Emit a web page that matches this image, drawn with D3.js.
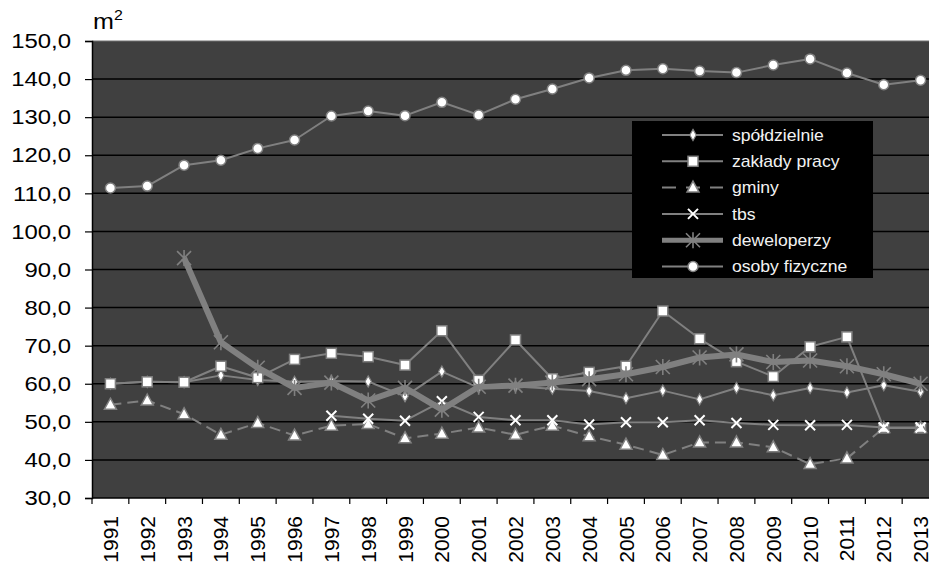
<!DOCTYPE html>
<html>
<head>
<meta charset="utf-8">
<script src="https://cdn.jsdelivr.net/npm/d3@7/dist/d3.min.js"></script>
<style>
  html, body { margin: 0; padding: 0; background: #ffffff; }
  svg { display: block; font-family: "Liberation Sans", Arial, sans-serif; }
</style>
</head>
<body>
<svg id="chart" width="929" height="567"></svg>
<script>
// Average usable floor area of dwellings completed, by investor type (m²)
const years = d3.range(1991, 2014).map(String);

const spoldzielnie = [60.0, 60.5, 60.4, 62.2, 61.0, 60.5, 60.7, 60.6, 56.7, 63.2, 59.0, 59.3, 58.7,
                      58.1, 56.2, 58.2, 55.9, 58.9, 57.0, 58.9, 57.7, 59.6, 57.9];
const zakladyPracy = [60.0, 60.5, 60.4, 64.6, 61.6, 66.4, 68.0, 67.1, 64.9, 73.9, 60.9, 71.5, 61.3,
                      63.0, 64.6, 79.1, 71.8, 65.8, 61.9, 69.7, 72.3, 48.4, 48.4];
const gminy        = [54.5, 55.6, 52.0, 46.6, 49.7, 46.4, 49.0, 49.4, 45.7, 46.9, 48.5, 46.6, 49.0,
                      46.2, 44.0, 41.3, 44.6, 44.6, 43.3, 38.9, 40.4, 48.4, 48.4];
const tbs          = [null, null, null, null, null, null, 51.6, 50.8, 50.3, 55.4, 51.3, 50.4, 50.4,
                      49.3, 49.9, 49.9, 50.4, 49.7, 49.2, 49.1, 49.2, 48.5, 48.5];
const deweloperzy  = [null, null, 93.0, 70.9, 64.2, 58.9, 60.3, 55.6, 58.9, 53.2, 59.2, 59.5, 60.3,
                      61.2, 62.5, 64.4, 66.9, 67.7, 65.7, 66.1, 64.6, 62.5, 60.0];
const osobyFizyczne = [111.4, 111.9, 117.4, 118.7, 121.8, 124.0, 130.3, 131.6, 130.4, 133.9, 130.6, 134.7, 137.4,
                       140.3, 142.3, 142.7, 142.1, 141.7, 143.7, 145.3, 141.6, 138.5, 139.7];

const yTicks = d3.range(30, 151, 10);

const seriesList = [
  { name: "spółdzielnie",    values: spoldzielnie,  marker: "diamond" },
  { name: "zakłady pracy",   values: zakladyPracy,  marker: "square" },
  { name: "gminy",           values: gminy,         marker: "triangle", dash: "11,6" },
  { name: "tbs",             values: tbs,           marker: "cross" },
  { name: "deweloperzy",     values: deweloperzy,   marker: "star", thick: true },
  { name: "osoby fizyczne",  values: osobyFizyczne, marker: "circle" }
];

const LINE = "#808080";
const PLOT_BG = "#404040";
const STRETCH = 1.14;

const svg = d3.select("#chart");
const plot = { left: 92, top: 41, right: 939, bottom: 498 };

const x = d3.scaleBand().domain(years).range([plot.left, plot.right]);
const cx = d => x(d) + x.bandwidth() / 2;
const y = d3.scaleLinear().domain([30, 150]).range([plot.bottom, plot.top]);

const fmt = d3.formatLocale({ decimal: ",", thousands: " ", grouping: [3], currency: ["", " zł"] }).format(".1f");

// plot area
svg.append("rect")
  .attr("x", plot.left).attr("y", plot.top)
  .attr("width", plot.right - plot.left).attr("height", plot.bottom - plot.top)
  .attr("fill", PLOT_BG);

// horizontal gridlines
svg.append("g").selectAll("line")
  .data(yTicks.filter(t => t > 30 && t < 150))
  .join("line")
  .attr("x1", plot.left).attr("x2", plot.right)
  .attr("y1", d => y(d)).attr("y2", d => y(d))
  .attr("stroke", "#000").attr("stroke-width", 1.5);

svg.append("line")
  .attr("x1", plot.left).attr("x2", plot.right)
  .attr("y1", plot.top).attr("y2", plot.top)
  .attr("stroke", "#707070").attr("stroke-width", 1);

// y axis
const yAxis = svg.append("g")
  .attr("transform", `translate(${plot.left},0)`)
  .call(d3.axisLeft(y).tickValues(yTicks).tickFormat(fmt).tickSize(7).tickPadding(0));
yAxis.select(".domain").attr("stroke", "#000").attr("stroke-width", 1.5);
yAxis.selectAll(".tick line").attr("stroke", "#000").attr("stroke-width", 1.2);
yAxis.selectAll(".tick text")
  .attr("x", -21 / STRETCH)
  .attr("transform", `scale(${STRETCH},1)`)
  .attr("font-size", 21)
  .attr("font-family", "Liberation Sans, Arial, sans-serif")
  .attr("fill", "#000");

// x axis: ticks on category boundaries, rotated year labels
const xAxis = svg.append("g");
xAxis.append("line")
  .attr("x1", plot.left).attr("x2", plot.right)
  .attr("y1", plot.bottom).attr("y2", plot.bottom)
  .attr("stroke", "#000").attr("stroke-width", 1.5);
xAxis.selectAll("line.tk")
  .data(years)
  .join("line").attr("class", "tk")
  .attr("x1", d => x(d)).attr("x2", d => x(d))
  .attr("y1", plot.bottom).attr("y2", plot.bottom + 6)
  .attr("stroke", "#000").attr("stroke-width", 1.2);
xAxis.selectAll("text")
  .data(years)
  .join("text")
  .attr("transform", d => `translate(${cx(d)},516) rotate(-90)`)
  .attr("text-anchor", "end")
  .attr("dy", "0.36em")
  .attr("font-size", 21)
  .attr("fill", "#000")
  .text(d => d);

// unit label
const unit = svg.append("text")
  .attr("transform", `translate(93,29) scale(${STRETCH},1)`)
  .attr("font-size", 22)
  .attr("fill", "#000");
unit.append("tspan").text("m");
unit.append("tspan").attr("font-size", 14).attr("dy", -9).text("2");

// marker shapes
function drawMarker(g, type, px, py) {
  switch (type) {
    case "diamond":
      g.append("path")
        .attr("d", d3.symbol(d3.symbolDiamond, 36)())
        .attr("transform", `translate(${px},${py})`)
        .attr("fill", "#fff").attr("stroke", LINE).attr("stroke-width", 1.2);
      break;
    case "square":
      g.append("rect")
        .attr("x", px - 5).attr("y", py - 5).attr("width", 10).attr("height", 10)
        .attr("fill", "#fff").attr("stroke", LINE).attr("stroke-width", 1.5);
      break;
    case "triangle":
      g.append("path")
        .attr("d", `M${px},${py - 6.5}L${px + 6},${py + 4.5}L${px - 6},${py + 4.5}Z`)
        .attr("fill", "#fff").attr("stroke", LINE).attr("stroke-width", 1.5);
      break;
    case "cross":
      g.append("path")
        .attr("d", `M${px - 5},${py - 5}L${px + 5},${py + 5}M${px - 5},${py + 5}L${px + 5},${py - 5}`)
        .attr("stroke", "#fff").attr("stroke-width", 2).attr("fill", "none");
      break;
    case "star":
      g.append("path")
        .attr("d", `M${px - 7},${py - 7}L${px + 7},${py + 7}M${px - 7},${py + 7}L${px + 7},${py - 7}M${px},${py - 8}L${px},${py + 8}`)
        .attr("stroke", LINE).attr("stroke-width", 1.6).attr("fill", "none");
      break;
    case "circle":
      g.append("circle")
        .attr("cx", px).attr("cy", py).attr("r", 5)
        .attr("fill", "#fff").attr("stroke", LINE).attr("stroke-width", 1.5);
      break;
  }
}

// series
const lineGen = d3.line()
  .defined(d => d.v != null)
  .x(d => cx(d.year))
  .y(d => y(d.v));

seriesList.forEach(s => {
  const pts = years.map((yr, i) => ({ year: yr, v: s.values[i] }));
  const g = svg.append("g");
  g.append("path")
    .datum(pts)
    .attr("d", lineGen)
    .attr("fill", "none")
    .attr("stroke", LINE)
    .attr("stroke-width", s.thick ? 6 : 2)
    .attr("stroke-dasharray", s.dash || null)
    .attr("stroke-linejoin", "round");
  pts.filter(p => p.v != null).forEach(p => drawMarker(g, s.marker, cx(p.year), y(p.v)));
});

// legend
const legend = svg.append("g").attr("transform", "translate(632,121)");
legend.append("rect").attr("width", 241).attr("height", 157).attr("fill", "#000");
seriesList.forEach((s, i) => {
  const ry = 14 + i * 26.3;
  const row = legend.append("g");
  row.append("line")
    .attr("x1", 30).attr("x2", 91).attr("y1", ry).attr("y2", ry)
    .attr("stroke", LINE)
    .attr("stroke-width", s.thick ? 5 : 2)
    .attr("stroke-dasharray", s.dash ? "14,10" : null);
  drawMarker(row, s.marker, 61, ry);
  row.append("text")
    .attr("transform", `translate(100,${ry}) scale(1.1,1)`)
    .attr("dy", "0.35em")
    .attr("font-size", 16)
    .attr("fill", "#f2f2f2")
    .text(s.name);
});
</script>
</body>
</html>
